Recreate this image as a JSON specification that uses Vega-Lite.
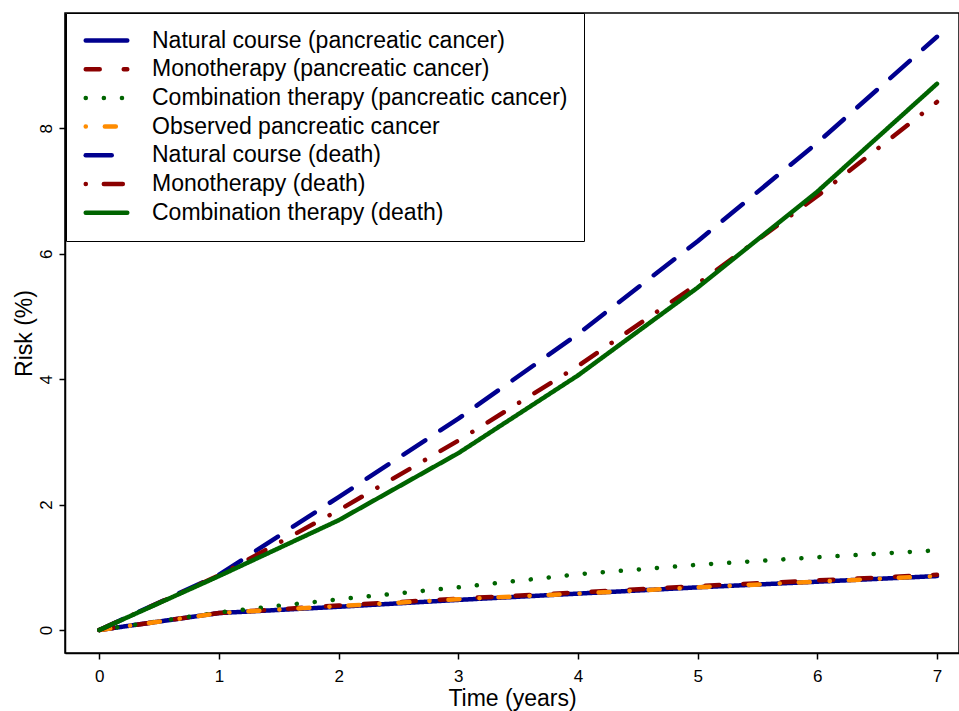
{
  "$schema": "https://vega.github.io/schema/vega-lite/v6.json",
  "width": 894,
  "height": 640,
  "autosize": {"type": "none"},
  "padding": {"left": 65, "top": 13, "right": 0, "bottom": 58},
  "background": "white",
  "config": {
    "font": "Liberation Sans",
    "view": {"stroke": "black", "strokeWidth": 1.5},
    "axis": {
      "labelFont": "Liberation Sans",
      "titleFont": "Liberation Sans",
      "labelColor": "black",
      "titleColor": "black",
      "domainColor": "black",
      "tickColor": "black",
      "domainWidth": 1.5,
      "tickWidth": 1.5,
      "tickSize": 6,
      "labelFontSize": 17,
      "titleFontSize": 23,
      "titleFontWeight": "normal",
      "grid": false
    }
  },
  "data": {
    "values": [
      {"t": 0, "risk": 0, "series": "Natural course (pancreatic cancer)"},
      {"t": 1, "risk": 0.27, "series": "Natural course (pancreatic cancer)"},
      {"t": 2, "risk": 0.37, "series": "Natural course (pancreatic cancer)"},
      {"t": 3, "risk": 0.48, "series": "Natural course (pancreatic cancer)"},
      {"t": 4, "risk": 0.58, "series": "Natural course (pancreatic cancer)"},
      {"t": 5, "risk": 0.68, "series": "Natural course (pancreatic cancer)"},
      {"t": 6, "risk": 0.77, "series": "Natural course (pancreatic cancer)"},
      {"t": 7, "risk": 0.86, "series": "Natural course (pancreatic cancer)"},
      {"t": 0, "risk": 0, "series": "Monotherapy (pancreatic cancer)"},
      {"t": 1, "risk": 0.27, "series": "Monotherapy (pancreatic cancer)"},
      {"t": 2, "risk": 0.39, "series": "Monotherapy (pancreatic cancer)"},
      {"t": 3, "risk": 0.5, "series": "Monotherapy (pancreatic cancer)"},
      {"t": 4, "risk": 0.6, "series": "Monotherapy (pancreatic cancer)"},
      {"t": 5, "risk": 0.7, "series": "Monotherapy (pancreatic cancer)"},
      {"t": 6, "risk": 0.79, "series": "Monotherapy (pancreatic cancer)"},
      {"t": 7, "risk": 0.88, "series": "Monotherapy (pancreatic cancer)"},
      {"t": 0, "risk": 0, "series": "Combination therapy (pancreatic cancer)"},
      {"t": 1, "risk": 0.28, "series": "Combination therapy (pancreatic cancer)"},
      {"t": 2, "risk": 0.49, "series": "Combination therapy (pancreatic cancer)"},
      {"t": 3, "risk": 0.68, "series": "Combination therapy (pancreatic cancer)"},
      {"t": 4, "risk": 0.89, "series": "Combination therapy (pancreatic cancer)"},
      {"t": 5, "risk": 1.04, "series": "Combination therapy (pancreatic cancer)"},
      {"t": 6, "risk": 1.16, "series": "Combination therapy (pancreatic cancer)"},
      {"t": 7, "risk": 1.27, "series": "Combination therapy (pancreatic cancer)"},
      {"t": 0, "risk": 0, "series": "Observed pancreatic cancer"},
      {"t": 1, "risk": 0.27, "series": "Observed pancreatic cancer"},
      {"t": 2, "risk": 0.38, "series": "Observed pancreatic cancer"},
      {"t": 3, "risk": 0.49, "series": "Observed pancreatic cancer"},
      {"t": 4, "risk": 0.58, "series": "Observed pancreatic cancer"},
      {"t": 5, "risk": 0.68, "series": "Observed pancreatic cancer"},
      {"t": 6, "risk": 0.77, "series": "Observed pancreatic cancer"},
      {"t": 7, "risk": 0.86, "series": "Observed pancreatic cancer"},
      {"t": 0, "risk": 0, "series": "Natural course (death)"},
      {"t": 1, "risk": 0.88, "series": "Natural course (death)"},
      {"t": 2, "risk": 2.12, "series": "Natural course (death)"},
      {"t": 3, "risk": 3.37, "series": "Natural course (death)"},
      {"t": 4, "risk": 4.72, "series": "Natural course (death)"},
      {"t": 5, "risk": 6.2, "series": "Natural course (death)"},
      {"t": 6, "risk": 7.77, "series": "Natural course (death)"},
      {"t": 7, "risk": 9.46, "series": "Natural course (death)"},
      {"t": 0, "risk": 0, "series": "Monotherapy (death)"},
      {"t": 1, "risk": 0.87, "series": "Monotherapy (death)"},
      {"t": 2, "risk": 1.91, "series": "Monotherapy (death)"},
      {"t": 3, "risk": 3.02, "series": "Monotherapy (death)"},
      {"t": 4, "risk": 4.21, "series": "Monotherapy (death)"},
      {"t": 5, "risk": 5.52, "series": "Monotherapy (death)"},
      {"t": 6, "risk": 6.92, "series": "Monotherapy (death)"},
      {"t": 7, "risk": 8.42, "series": "Monotherapy (death)"},
      {"t": 0, "risk": 0, "series": "Combination therapy (death)"},
      {"t": 1, "risk": 0.86, "series": "Combination therapy (death)"},
      {"t": 2, "risk": 1.75, "series": "Combination therapy (death)"},
      {"t": 3, "risk": 2.82, "series": "Combination therapy (death)"},
      {"t": 4, "risk": 4.06, "series": "Combination therapy (death)"},
      {"t": 5, "risk": 5.46, "series": "Combination therapy (death)"},
      {"t": 6, "risk": 6.99, "series": "Combination therapy (death)"},
      {"t": 7, "risk": 8.71, "series": "Combination therapy (death)"}
    ]
  },
  "mark": {"type": "line", "strokeWidth": 4.5, "strokeCap": "round", "strokeJoin": "round", "clip": true},
  "encoding": {
    "x": {
      "field": "t", "type": "quantitative",
      "scale": {"domain": [-0.287, 7.184], "nice": false, "zero": false},
      "axis": {"values": [0, 1, 2, 3, 4, 5, 6, 7], "title": "Time (years)", "titlePadding": 3, "labelPadding": 9}
    },
    "y": {
      "field": "risk", "type": "quantitative",
      "scale": {"domain": [-0.367, 9.839], "nice": false, "zero": false},
      "axis": {"values": [0, 2, 4, 6, 8], "title": "Risk (%)", "labelAngle": 270, "labelAlign": "center", "labelBaseline": "bottom", "labelPadding": 4, "titlePadding": 1}
    },
    "color": {
      "field": "series", "type": "nominal",
      "scale": {
        "domain": ["Natural course (pancreatic cancer)", "Monotherapy (pancreatic cancer)", "Combination therapy (pancreatic cancer)", "Observed pancreatic cancer", "Natural course (death)", "Monotherapy (death)", "Combination therapy (death)"],
        "range": ["#00008f", "#8b0000", "#006400", "#ff8c00", "#00008f", "#8b0000", "#006400"]
      },
      "legend": {
        "title": null,
        "orient": "none",
        "legendX": 1,
        "legendY": 0,
        "padding": 16,
        "fillColor": "white",
        "strokeColor": "black",
        "labelFontSize": 23,
        "labelFont": "Liberation Sans",
        "labelColor": "black",
        "labelLimit": 700,
        "symbolType": "M-4,0H4",
        "symbolSize": 108,
        "symbolStrokeWidth": 4.5,
        "symbolOffset": 13,
        "labelOffset": 34,
        "rowPadding": 4.7,
        "encode": {
          "symbols": {
            "enter": {"strokeCap": {"value": "round"}},
            "update": {
              "strokeCap": {"value": "round"},
              "strokeDashOffset": {"signal": "datum.value === 'Observed pancreatic cancer' ? 31 : (datum.value === 'Monotherapy (death)' ? 37 : 0)"}
            }
          }
        }
      }
    },
    "strokeDash": {
      "field": "series", "type": "nominal",
      "scale": {
        "domain": ["Natural course (pancreatic cancer)", "Monotherapy (pancreatic cancer)", "Combination therapy (pancreatic cancer)", "Observed pancreatic cancer", "Natural course (death)", "Monotherapy (death)", "Combination therapy (death)"],
        "range": [[1, 0], [14, 24], [0.1, 18], [11, 20, 0.1, 19], [26, 18], [19, 18, 0.1, 18], [1, 0]]
      },
      "legend": null
    }
  }
}
